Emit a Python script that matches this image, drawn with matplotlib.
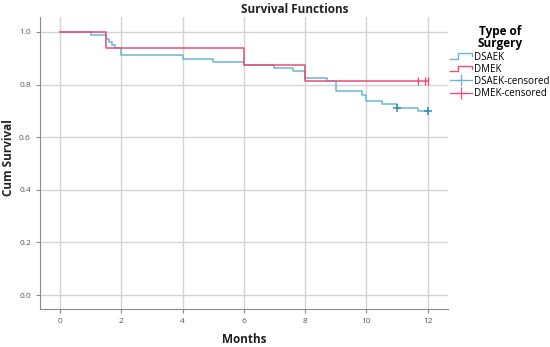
import numpy as np
import matplotlib.pyplot as plt
from matplotlib.lines import Line2D
from matplotlib.legend_handler import HandlerBase

plt.rcParams["font.family"] = ["Open Sans", "DejaVu Sans"]

# Kaplan-Meier step data
dsaek_t = [0, 1.0, 1.5, 1.6, 1.7, 1.8, 2.0, 4.0, 5.0, 6.0, 7.0, 7.6, 8.0, 8.7, 9.0, 9.85, 10.0, 10.5, 11.0, 11.7, 12.0]
dsaek_s = [1.0, 0.989, 0.975, 0.962, 0.950, 0.940, 0.911, 0.899, 0.887, 0.875, 0.862, 0.850, 0.826, 0.814, 0.774, 0.762, 0.737, 0.725, 0.712, 0.698, 0.698]
dmek_t = [0, 1.5, 6.0, 8.0, 12.0]
dmek_s = [1.0, 0.9375, 0.875, 0.8125, 0.8125]

dsaek_cens_t = [11.0, 12.0]
dsaek_cens_s = [0.712, 0.698]
dmek_cens_t = [11.7, 11.9, 12.0]
dmek_cens_s = [0.8125, 0.8125, 0.8125]

blue = "#6ab6d2"
blue_dark = "#2f8cb8"
red = "#ea4d7b"


class StepHandler(HandlerBase):
    def create_artists(self, legend, orig, xd, yd, w, h, fontsize, trans):
        xs = np.array([0, 0.35, 0.35, 1.0, 1.0]) * w - xd
        ys = np.array([0.1, 0.1, 0.9, 0.9, 0.45]) * h - yd
        ln = Line2D(xs, ys, color=orig.get_color(), lw=1.0, transform=trans)
        return [ln]


fig = plt.figure(figsize=(5.5, 3.47), dpi=100)
ax = fig.add_axes([0.0727, 0.1095, 0.742, 0.8415])

l1, = ax.plot(dsaek_t, dsaek_s, drawstyle="steps-post", color=blue, lw=1.1, label="DSAEK")
l2, = ax.plot(dmek_t, dmek_s, drawstyle="steps-post", color=red, lw=1.1, label="DMEK")
ax.plot(dsaek_cens_t, dsaek_cens_s, ls="none", marker="+", ms=6, mew=1.1, color=blue_dark)
ax.plot(dmek_cens_t, dmek_cens_s, ls="none", marker="|", ms=6, mew=1.0, color=red)

h3 = Line2D([], [], color=blue, marker="+", ms=9, mew=0.9, lw=0.9)
h4 = Line2D([], [], color=red, marker="+", ms=9, mew=0.9, lw=0.9)

ax.set_xlim(-0.66, 12.67)
ax.set_ylim(-0.053, 1.057)
ax.set_xticks(range(0, 13, 2))
ax.set_yticks(np.arange(0, 1.01, 0.2))
ax.set_yticklabels([f"{v:.1f}" for v in np.arange(0, 1.01, 0.2)])
ax.grid(True, color="#d4d4d4", lw=1.0)
ax.set_axisbelow(True)
for s in ["top", "right"]:
    ax.spines[s].set_visible(False)
for s in ["left", "bottom"]:
    ax.spines[s].set_color("#8a8a8a")
ax.tick_params(labelsize=6, colors="#8a8a8a", labelcolor="#555555", length=3, width=0.8)

ax.set_xlabel("Months", fontsize=8.5, fontweight="bold", color="#222222", labelpad=6)
fig.text(9 / 550, 0.545, "Cum Survival", rotation=90, ha="center", va="center",
         fontsize=8.5, fontweight="bold", color="#222222")
fig.text(0.536, 0.974, "Survival Functions", ha="center", va="center",
         fontsize=8.5, fontweight="bold", color="#222222")

leg = fig.legend([l1, l2, h3, h4], ["DSAEK", "DMEK", "DSAEK-censored", "DMEK-censored"],
                 handler_map={l1: StepHandler(), l2: StepHandler()},
                 loc="upper left", bbox_to_anchor=(0.806, 0.948), frameon=False,
                 fontsize=7, title="Type of\nSurgery", handlelength=2.3, handletextpad=0.2,
                 labelspacing=0.12, borderpad=0.2)
leg.get_title().set_fontweight("bold")
leg.get_title().set_fontsize(8.5)
leg.get_title().set_multialignment("center")
leg.get_title().set_linespacing(0.95)

fig.savefig("out.png", dpi=100)
